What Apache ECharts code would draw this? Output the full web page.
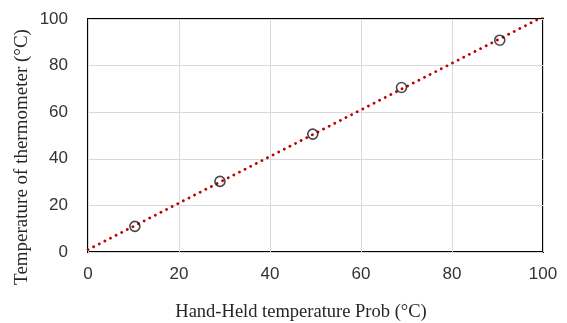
<!DOCTYPE html>
<html><head><meta charset="utf-8">
<script src="https://cdn.jsdelivr.net/npm/echarts@6/dist/echarts.min.js"></script>
<style>html,body{margin:0;padding:0;background:#fff}#c{width:567px;height:323px}</style>
</head><body><div id="c"></div>
<script>
var probTemps = [10.3, 29.0, 49.4, 68.9, 90.5];
var thermoTemps = [11.0, 30.3, 50.6, 70.6, 90.9];
var trendX = [0, 100];
var trendY = [1.0, 101.0];
var xTicks = [0, 20, 40, 60, 80, 100];
var yTicks = [0, 20, 40, 60, 80, 100];
var xTitle = 'Hand-Held temperature Prob (°C)';
var yTitle = 'Temperature of thermometer (°C)';

var chart = echarts.init(document.getElementById('c'));
var labelStyle = {fontFamily: 'Liberation Sans, Arial, sans-serif', fontSize: 17, color: '#333'};
var serif = 'Liberation Serif, Times New Roman, serif';
chart.setOption({
  animation: false,
  grid: {left: 88, right: 24, top: 19, bottom: 71, outerBoundsMode: 'none', containLabel: false, show: true, borderColor: '#000', borderWidth: 2, backgroundColor: 'transparent'},
  xAxis: {
    type: 'value', min: xTicks[0], max: xTicks[xTicks.length-1], interval: xTicks[1]-xTicks[0],
    axisLine: {show: false}, axisTick: {show: false},
    axisLabel: Object.assign({margin: 14}, labelStyle),
    splitLine: {show: true, lineStyle: {color: '#d9d9d9', width: 1}}
  },
  yAxis: {
    type: 'value', min: yTicks[0], max: yTicks[yTicks.length-1], interval: yTicks[1]-yTicks[0],
    axisLine: {show: false}, axisTick: {show: false},
    axisLabel: Object.assign({margin: 20}, labelStyle),
    splitLine: {show: true, lineStyle: {color: '#d9d9d9', width: 1}}
  },
  graphic: [
    {type: 'text', x: 301, y: 312, style: {text: xTitle, font: '18.5px ' + serif, fill: '#262626', align: 'center', verticalAlign: 'middle'}},
    {type: 'text', x: 22, y: 157, rotation: Math.PI / 2, style: {text: yTitle, font: '19px ' + serif, fill: '#262626', align: 'center', verticalAlign: 'middle'}}
  ],
  series: [
    {
      type: 'line', data: trendX.map(function(x, i){return [x, trendY[i]];}),
      symbol: 'none', clip: true, z: 3,
      lineStyle: {color: '#c00000', width: 2.8, type: [0.1, 6.2], cap: 'round'}
    },
    {
      type: 'scatter', data: probTemps.map(function(x, i){return [x, thermoTemps[i]];}),
      symbol: 'circle', symbolSize: 10, z: 4,
      itemStyle: {color: 'rgba(255,255,255,0)', borderColor: '#1a1a1a', borderWidth: 1.6}
    }
  ]
});
</script></body></html>
